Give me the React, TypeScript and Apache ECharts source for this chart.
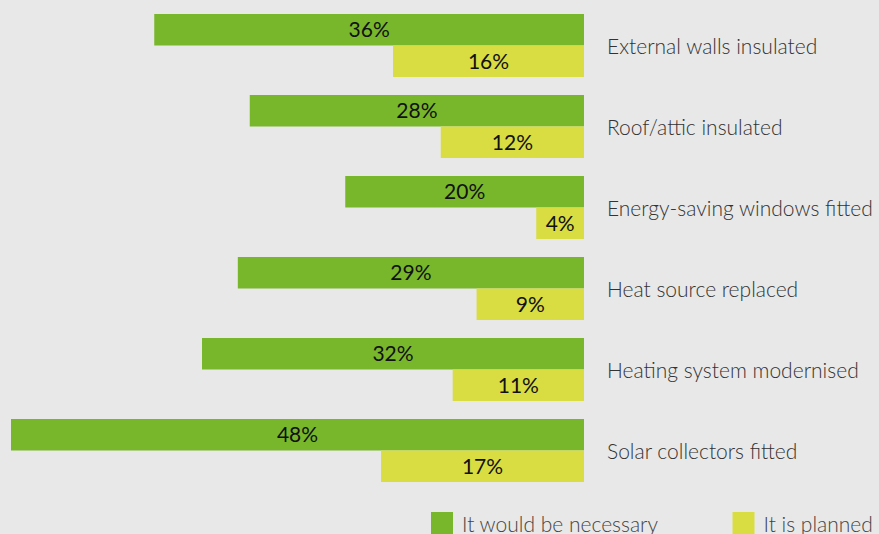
import React, { useEffect, useRef } from "react";
import * as echarts from "echarts";

const categories = [
  "External walls insulated",
  "Roof/attic insulated",
  "Energy-saving windows fitted",
  "Heat source replaced",
  "Heating system modernised",
  "Solar collectors fitted",
];
const necessary = [36, 28, 20, 29, 32, 48];
const planned = [16, 12, 4, 9, 11, 17];
const seriesNames = ["It would be necessary", "It is planned"];

export default function App() {
  const ref = useRef<HTMLDivElement>(null);
  useEffect(() => {
    const chart = echarts.init(ref.current!, undefined, { renderer: "svg" });
    const labelStyle = {
      show: true,
      position: "inside",
      formatter: "{c}%",
      color: "#111",
      fontFamily: "Lato",
      fontSize: 21,
      offset: [0, -1],
    };
    chart.setOption({
      animation: false,
      backgroundColor: "#e8e8e8",
      textStyle: { fontFamily: "Lato" },
      grid: { left: 11, right: 295, top: 5, height: 486, containLabel: false },
      xAxis: {
        type: "value",
        inverse: true,
        min: 0,
        max: 48,
        show: false,
      },
      yAxis: {
        type: "category",
        data: categories,
        inverse: true,
        position: "right",
        axisLine: { show: false },
        axisTick: { show: false },
        axisLabel: {
          margin: 23,
          color: "#333",
          fontFamily: "Lato",
          fontWeight: 300,
          fontSize: 21,
          align: "left",
          padding: [0, 0, 2, 0],
        },
      },
      legend: {
        left: 431,
        top: 512,
        padding: 0,
        itemWidth: 22,
        itemHeight: 22,
        itemGap: 74,
        icon: "rect",
        textStyle: {
          color: "#444",
          fontFamily: "Lato",
          fontWeight: 300,
          fontSize: 21,
          padding: [0, 0, 0, 4],
        },
        data: seriesNames,
      },
      series: [
        {
          name: seriesNames[0],
          type: "bar",
          data: necessary,
          barWidth: 31.5,
          barGap: "0%",
          itemStyle: { color: "#78b72b" },
          label: labelStyle,
        },
        {
          name: seriesNames[1],
          type: "bar",
          data: planned,
          barWidth: 31.5,
          barGap: "0%",
          itemStyle: { color: "#d9dd42" },
          label: labelStyle,
        },
      ],
    });
    return () => chart.dispose();
  }, []);
  return (
    <div
      ref={ref}
      style={{ position: "fixed", left: 0, top: 0, width: 879, height: 534 }}
    />
  );
}
